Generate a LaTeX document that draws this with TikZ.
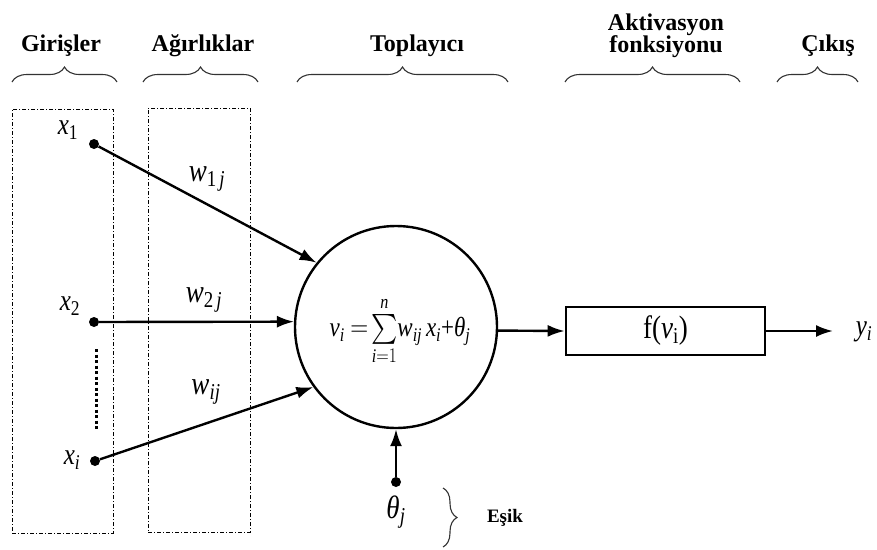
\documentclass[tikz,border=0pt]{standalone}
\usepackage{amsmath}
\usepackage{graphicx}
\usepackage{fontspec}
\setmainfont{Liberation Serif}
\usetikzlibrary{arrows.meta,decorations.pathreplacing}
\newcommand\tallx[1]{\scalebox{1}[1.2]{#1}}
\begin{document}
\begin{tikzpicture}[x=1pt,y=-1pt,
  hdr/.style={font=\fontsize{24}{22}\selectfont\bfseries, inner sep=0pt, anchor=base},
  brc/.style={decorate, decoration={brace, amplitude=15pt}, line width=1.1pt, black!80},
  ebrc/.style={decorate, decoration={brace, amplitude=14pt}, line width=1.1pt, black!80},
  dbox/.style={draw, line width=0.7pt, dash pattern=on 4pt off 2pt on 1pt off 2pt, inner sep=0pt},
  arr/.style={line width=2.4pt, -{Latex[length=17pt,width=12pt]}},
  dotn/.style={circle, fill, inner sep=0pt, minimum size=10pt},
  xl/.style={inner sep=0pt, font=\fontsize{25}{27}\selectfont},
  wl/.style={inner sep=0pt, font=\fontsize{27}{29}\selectfont},
]
\useasboundingbox (0,0) rectangle (877,549);

% headers
\node[hdr] (hg) at (61,51) {Girişler};
\node[hdr] (ha) at (203,51) {Ağırlıklar};
\node[hdr] (ht) at (417,51) {Toplayıcı};
\node[hdr] (hak1) at (666,30) {Aktivasyon};
\node[hdr] (hak2) at (666,52) {fonksiyonu};
\node[hdr] (hc) at (828,51) {Çıkış};

% header braces
\coordinate (bg1) at (12,82);  \coordinate (bg2) at (117,82);
\coordinate (ba1) at (143,82); \coordinate (ba2) at (258,82);
\coordinate (bt1) at (297,82); \coordinate (bt2) at (508,82);
\coordinate (bk1) at (565,82); \coordinate (bk2) at (740,82);
\coordinate (bc1) at (777,82); \coordinate (bc2) at (858,82);
\draw[brc] (bg1) -- (bg2);
\draw[brc] (ba1) -- (ba2);
\draw[brc] (bt1) -- (bt2);
\draw[brc] (bk1) -- (bk2);
\draw[brc] (bc1) -- (bc2);

% dashed boxes
\node[dbox, minimum width=101pt, minimum height=424pt] (inbox) at (62.5,321) {};
\node[dbox, minimum width=102pt, minimum height=424pt] (wbox) at (199,320) {};

% input dots
\node[dotn] (x1) at (94,144) {};
\node[dotn] (x2) at (94,322) {};
\node[dotn] (xi) at (95,461) {};
\node[dotn] (th) at (396,482) {};

% dotted vertical
\coordinate (d1) at (96,349);
\coordinate (d2) at (96,430);
\draw[line width=3pt, dash pattern=on 3pt off 2.5pt] (d1) -- (d2);

% summation circle and activation box
\node[circle, draw, line width=2.4pt, minimum size=202pt, inner sep=0pt] (sum) at (396,327) {};
\node[inner sep=0pt, font=\fontsize{23}{26}\selectfont] (form) at (400,331)
  {\tallx{\textit{v}\textsubscript{\textit{i}} $=\!\sum\limits_{\mathit{i}=1}^{\mathit{n}}$\textit{w}\textsubscript{\textit{ij}}\,\textit{x}\textsubscript{\textit{i}}+\textit{θ}\textsubscript{\textit{j}}}};
\node[draw, line width=2.7pt, minimum width=199pt, minimum height=48pt, inner sep=0pt] (box) at (665.5,331)
  {\fontsize{27}{29}\selectfont\tallx{f(\textit{v}\textsubscript{i})}};
\coordinate (out) at (833,331);

% connectors
\draw[arr] (x1) -- (sum.141);
\draw[arr] (x2) -- (sum.177);
\draw[arr] (xi) -- (sum.216);
\draw[arr] (th) -- (sum.south);
\draw[arr] (sum.-2) -- (box.west);
\draw[arr] (box.east) -- (out);

% labels
\node[xl] (lx1) at (68,130) {\tallx{\textit{x}\textsubscript{1}}};
\node[xl] (lx2) at (70,306) {\tallx{\textit{x}\textsubscript{2}}};
\node[xl] (lxi) at (72,460) {\tallx{\textit{x}\textsubscript{\textit{i}}}};
\node[wl] (lw1) at (207,179) {\tallx{\textit{w}\textsubscript{1\,\textit{j}}}};
\node[wl] (lw2) at (204,300) {\tallx{\textit{w}\textsubscript{2\,\textit{j}}}};
\node[wl] (lwi) at (206,392) {\tallx{\textit{w}\textsubscript{\textit{ij}}}};
\node[wl] (lth) at (396,512) {\tallx{\textit{θ}\textsubscript{\textit{j}}}};
\node[inner sep=0pt, font=\fontsize{25}{27}\selectfont] (ly) at (864,332) {\tallx{\textit{y}\textsubscript{\textit{i}}}};

% threshold brace
\coordinate (e1) at (443,488);
\coordinate (e2) at (443,547);
\draw[ebrc] (e1) -- (e2);
\node[inner sep=0pt, font=\fontsize{19}{20}\selectfont\bfseries] (esik) at (505,518) {Eşik};
\end{tikzpicture}
\end{document}
